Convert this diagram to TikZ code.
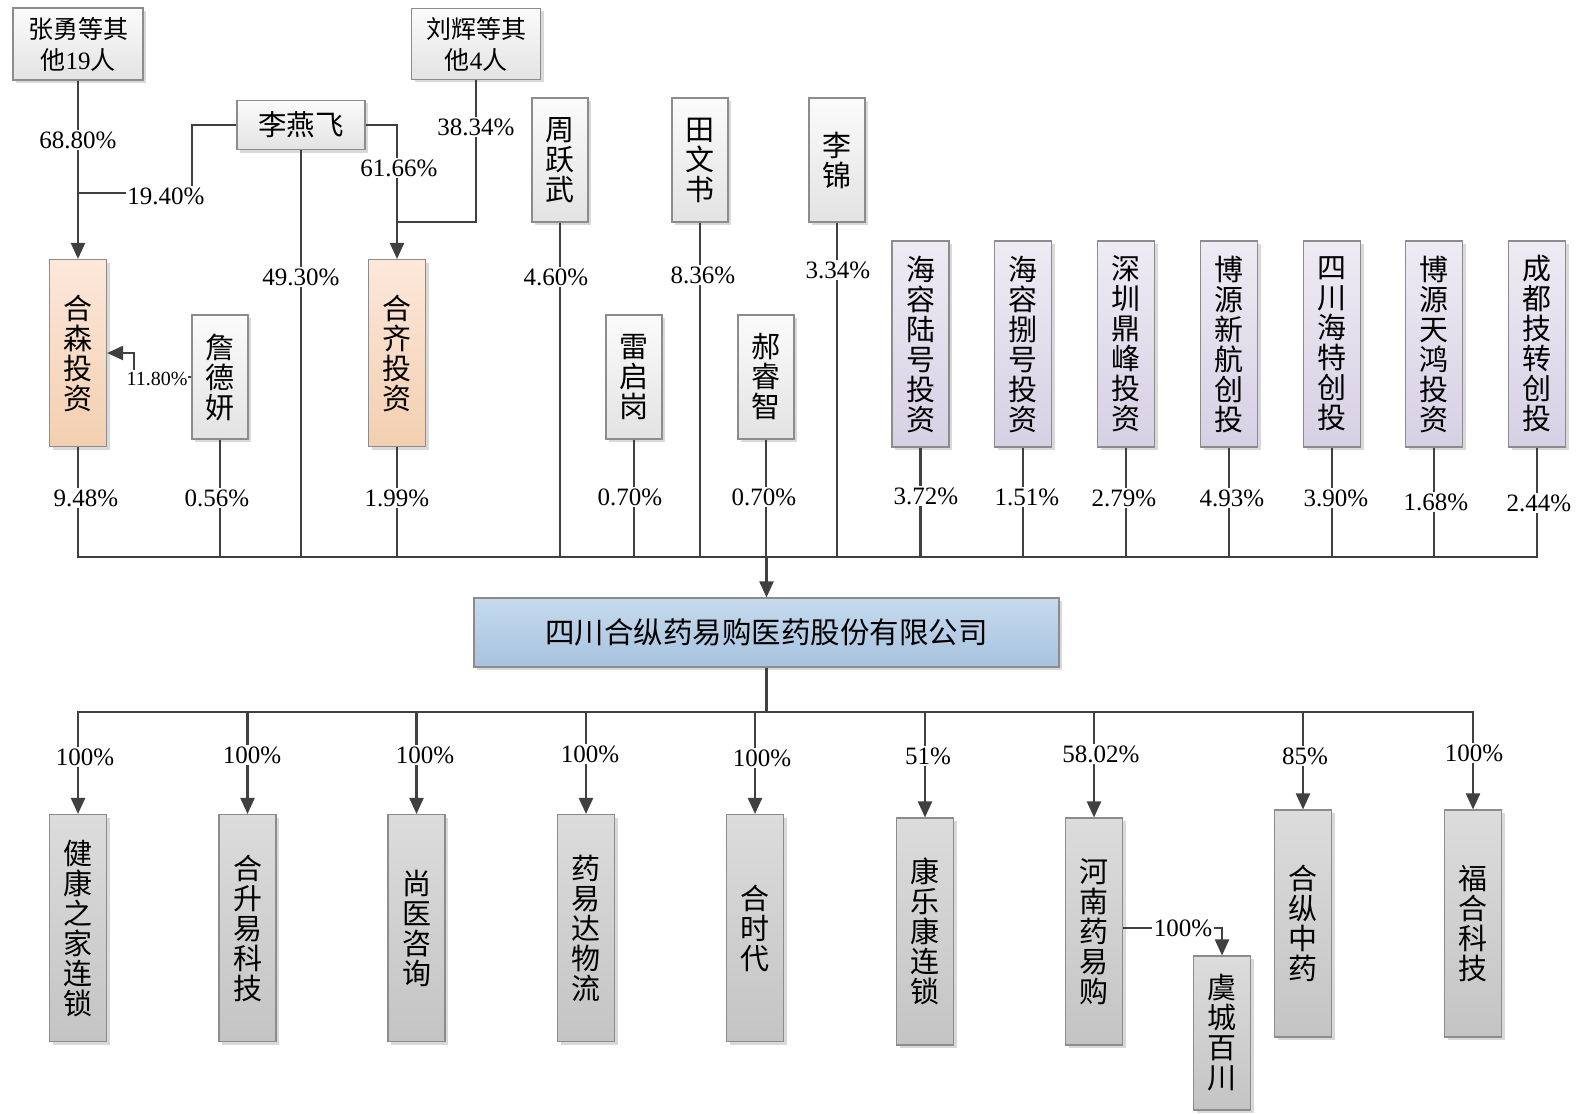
\documentclass[tikz,border=0pt]{standalone}
\usepackage{fontspec}
\setmainfont{Liberation Serif}
\newfontfamily\cjk{Noto Sans CJK SC}
\usetikzlibrary{arrows.meta,shadows}
\definecolor{linec}{HTML}{404040}
\definecolor{borderc}{HTML}{8C8C8C}
\definecolor{gtop}{HTML}{FBFBFB}
\definecolor{gbot}{HTML}{E3E3E3}
\definecolor{otop}{HTML}{FCE8DA}
\definecolor{obot}{HTML}{F3CFB0}
\definecolor{ptop}{HTML}{EEEBF4}
\definecolor{pbot}{HTML}{D6D0E4}
\definecolor{mtop}{HTML}{C6DAED}
\definecolor{mbot}{HTML}{A7C3DF}
\definecolor{dtop}{HTML}{DCDCDC}
\definecolor{dbot}{HTML}{C4C4C4}
\begin{document}
\begin{tikzpicture}[x=1pt,y=-1pt,
  conn/.style={draw=linec, line width=2.3pt},
  arr/.style={conn, -{Triangle[length=16pt,width=14pt]}},
  box/.style={draw=borderc, line width=1.1pt, inner sep=0pt, align=center,
    drop shadow={shadow xshift=3pt, shadow yshift=-3pt, fill=black, opacity=0.15}},
  vtext/.style={font=\cjk\fontsize{29}{30}\selectfont},
  htext/.style={font=\cjk\fontsize{25}{31}\selectfont},
  gbox/.style={box, top color=gtop, bottom color=gbot},
  obox/.style={box, top color=otop, bottom color=obot},
  pbox/.style={box, top color=ptop, bottom color=pbot},
  dbox/.style={box, top color=dtop, bottom color=dbot},
  mbox/.style={box, top color=mtop, bottom color=mbot},
  short/.style={minimum width=56pt, minimum height=124pt},
  mid/.style={minimum width=57pt, minimum height=187pt},
  tall/.style={minimum width=57pt, minimum height=206pt},
  low/.style={minimum width=57pt, minimum height=227pt},
  pct/.style={fill=white, inner xsep=1.5pt, inner ysep=2pt, font=\fontsize{25}{25}\selectfont},
  spct/.style={fill=white, inner xsep=1pt, inner ysep=2pt, font=\fontsize{20}{20}\selectfont},
]
\useasboundingbox (0,0) rectangle (1581,1113);

% ---------- shareholders ----------
\node[gbox, htext, minimum width=130pt, minimum height=72pt] (n1) at (78,44) {张勇等其\\他{\rmfamily 19}人};
\node[gbox, htext, minimum width=129pt, minimum height=71pt] (n2) at (476,44) {刘辉等其\\他{\rmfamily 4}人};
\node[gbox, font=\cjk\fontsize{28.5}{30}\selectfont, minimum width=128pt, minimum height=49pt] (n3) at (301,125) {李燕飞};
\node[gbox, vtext, short] (n4) at (560,160) {周\\跃\\武};
\node[gbox, vtext, short] (n5) at (700,160) {田\\文\\书};
\node[gbox, vtext, short] (n6) at (837,160) {李\\锦};
\node[obox, vtext, mid] (n7) at (78,353) {合\\森\\投\\资};
\node[gbox, vtext, short] (n8) at (220,377) {詹\\德\\妍};
\node[obox, vtext, mid] (n9) at (397,353) {合\\齐\\投\\资};
\node[gbox, vtext, short] (n10) at (634,377) {雷\\启\\岗};
\node[gbox, vtext, short] (n11) at (766,377) {郝\\睿\\智};
\node[pbox, vtext, tall] (p1) at (920.5,344) {海\\容\\陆\\号\\投\\资};
\node[pbox, vtext, tall] (p2) at (1023,344) {海\\容\\捌\\号\\投\\资};
\node[pbox, vtext, tall] (p3) at (1126,344) {深\\圳\\鼎\\峰\\投\\资};
\node[pbox, vtext, tall] (p4) at (1229,344) {博\\源\\新\\航\\创\\投};
\node[pbox, vtext, tall] (p5) at (1332,344) {四\\川\\海\\特\\创\\投};
\node[pbox, vtext, tall] (p6) at (1434,344) {博\\源\\天\\鸿\\投\\资};
\node[pbox, vtext, tall] (p7) at (1537,344) {成\\都\\技\\转\\创\\投};

% ---------- company ----------
\node[mbox, font=\cjk\fontsize{29.5}{30}\selectfont, minimum width=585pt, minimum height=69pt] (main) at (766.5,632.5) {四川合纵药易购医药股份有限公司};

% ---------- subsidiaries ----------
\node[dbox, vtext, low] (c1) at (78,928) {健\\康\\之\\家\\连\\锁};
\node[dbox, vtext, low] (c2) at (247.5,928) {合\\升\\易\\科\\技};
\node[dbox, vtext, low] (c3) at (416.5,928) {尚\\医\\咨\\询};
\node[dbox, vtext, low] (c4) at (586,928) {药\\易\\达\\物\\流};
\node[dbox, vtext, low] (c5) at (755,928) {合\\时\\代};
\node[dbox, vtext, low] (c6) at (925,931.5) {康\\乐\\康\\连\\锁};
\node[dbox, vtext, low] (c7) at (1094,931.5) {河\\南\\药\\易\\购};
\node[dbox, vtext, low] (c8) at (1303,923.5) {合\\纵\\中\\药};
\node[dbox, vtext, low] (c9) at (1473,923.5) {福\\合\\科\\技};
\node[dbox, vtext, minimum width=57pt, minimum height=154pt] (c10) at (1222,1033) {虞\\城\\百\\川};

\coordinate (bar) at (0,557);
\coordinate (bbar) at (0,712);

% ---------- upper connectors ----------
\draw[arr] (n1.south) -- (n7.north);
\draw[conn] (n3.west) -- (192,125) -- (192,193) -- (n1.south |- 0,193);
\draw[arr] (n3.east) -- (n9.north |- n3.east) -- (n9.north);
\draw[conn] (n2.south) -- (n2.south |- 0,222) -- (n9.north |- 0,222);
\draw[arr] (n8.west) -- (134,377) -- (134,353) -- (n7.east);

\draw[conn] (n7.south) -- (n7.south |- bar) -- (p7.south |- bar) -- (p7.south);
\foreach \n in {n3,n4,n5,n6,n8,n9,n10,n11,p1,p2,p3,p4,p5,p6}
  \draw[conn] (\n.south) -- (\n.south |- bar);
\draw[arr] (main.north |- bar) -- (main.north);

% ---------- lower connectors ----------
\draw[conn] (main.south) -- (main.south |- bbar);
\draw[conn, line cap=rect] (c1.north |- bbar) -- (c9.north |- bbar);
\foreach \n in {c1,c2,c3,c4,c5,c6,c7,c8,c9}
  \draw[arr] (\n.north |- bbar) -- (\n.north);
\draw[arr] (c7.east |- 0,928) -- (c10.north |- 0,928) -- (c10.north);

% ---------- labels ----------
\node[pct] (l1) at (78,140) {68.80\%};
\node[pct] (l2) at (166,196) {19.40\%};
\node[pct] (l3) at (476,127) {38.34\%};
\node[pct] (l4) at (399,168) {61.66\%};
\node[pct] (l5) at (301,277) {49.30\%};
\node[pct] (l6) at (556,277) {4.60\%};
\node[pct] (l7) at (703,275) {8.36\%};
\node[pct] (l8) at (838,270) {3.34\%};
\node[spct] (l9) at (157,379) {11.80\%};
\node[pct] (l10) at (86,498) {9.48\%};
\node[pct] (l11) at (217,498) {0.56\%};
\node[pct] (l12) at (397,498) {1.99\%};
\node[pct] (l13) at (630,497) {0.70\%};
\node[pct] (l14) at (764,497) {0.70\%};
\node[pct] (l15) at (926,496) {3.72\%};
\node[pct] (l16) at (1027,497) {1.51\%};
\node[pct] (l17) at (1124,498) {2.79\%};
\node[pct] (l18) at (1232,498) {4.93\%};
\node[pct] (l19) at (1336,498) {3.90\%};
\node[pct] (l20) at (1436,502) {1.68\%};
\node[pct] (l21) at (1539,503) {2.44\%};

\node[pct] (b1) at (85,757) {100\%};
\node[pct] (b2) at (252,755) {100\%};
\node[pct] (b3) at (425,755) {100\%};
\node[pct] (b4) at (590,754) {100\%};
\node[pct] (b5) at (762,758) {100\%};
\node[pct] (b6) at (928,756) {51\%};
\node[pct] (b7) at (1101,754) {58.02\%};
\node[pct] (b8) at (1305,756) {85\%};
\node[pct] (b9) at (1474,753) {100\%};
\node[pct] (b10) at (1183,928) {100\%};
\end{tikzpicture}
\end{document}
